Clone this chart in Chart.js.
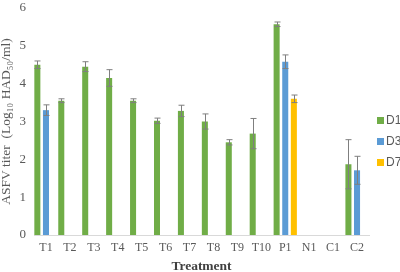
<!DOCTYPE html>
<html>
<head>
<meta charset="utf-8">
<script src="https://cdn.jsdelivr.net/npm/chart.js@4"></script>
<style>
  body { margin: 0; background: #fff; }
  #wrap { position: relative; width: 400px; height: 272px; }
  #legend { position: absolute; left: 377px; top: 113px; font: 12px "Liberation Sans", Arial, sans-serif; color: #595959; }
  #legend div { height: 21px; line-height: 14px; white-space: nowrap; }
  #legend span { display: inline-block; width: 7px; height: 7px; margin-right: 2px; vertical-align: 0px; }
</style>
</head>
<body>
<div id="wrap">
  <canvas id="myChart" width="400" height="272"></canvas>
  <div id="legend"></div>
</div>
<script>
var labels = ['T1', 'T2', 'T3', 'T4', 'T5', 'T6', 'T7', 'T8', 'T9', 'T10', 'P1', 'N1', 'C1', 'C2'];

var d1Values = [4.5, 3.55, 4.45, 4.15, 3.55, 3.02, 3.28, 3.0, 2.45, 2.68, 5.57, null, null, 1.87];
var d1Errors = [0.1, 0.05, 0.13, 0.22, 0.05, 0.07, 0.15, 0.2, 0.07, 0.4, 0.06, null, null, 0.65];

var d3Values = [3.3, null, null, null, null, null, null, null, null, null, 4.58, null, null, 1.71];
var d3Errors = [0.14, null, null, null, null, null, null, null, null, null, 0.18, null, null, 0.37];

var d7Values = [null, null, null, null, null, null, null, null, null, null, 3.6, null, null, null];
var d7Errors = [null, null, null, null, null, null, null, null, null, null, 0.1, null, null, null];

var errorBars = {
    id: 'errorBars',
    afterDatasetsDraw: function(chart) {
        var ctx = chart.ctx;
        var y = chart.scales.y;
        ctx.save();
        ctx.strokeStyle = '#7f7f7f';
        ctx.lineWidth = 1;
        chart.data.datasets.forEach(function(ds, i) {
            var meta = chart.getDatasetMeta(i);
            meta.data.forEach(function(bar, j) {
                var v = ds.data[j], e = ds.errors[j];
                if (v == null || e == null) return;
                var x = Math.round(bar.x) + 0.5;
                var top = y.getPixelForValue(v + e);
                var bot = y.getPixelForValue(v - e);
                ctx.beginPath();
                ctx.moveTo(x, top); ctx.lineTo(x, bot);
                ctx.moveTo(x - 3, top); ctx.lineTo(x + 3, top);
                ctx.moveTo(x - 3, bot); ctx.lineTo(x + 3, bot);
                ctx.stroke();
            });
        });
        ctx.restore();
    }
};

var serif = '"Liberation Serif", "Times New Roman", serif';

var ctx = document.getElementById('myChart').getContext('2d');
var myChart = new Chart(ctx, {
    type: 'bar',
    data: {
        labels: labels,
        datasets: [
            { label: 'D1', data: d1Values, errors: d1Errors, backgroundColor: '#70AD47' },
            { label: 'D3', data: d3Values, errors: d3Errors, backgroundColor: '#5B9BD5' },
            { label: 'D7', data: d7Values, errors: d7Errors, backgroundColor: '#FFC000' }
        ]
    },
    options: {
        responsive: false,
        animation: false,
        layout: { padding: { top: 0, right: 31, left: -2, bottom: 0 } },
        datasets: { bar: { categoryPercentage: 1.08, barPercentage: 0.7 } },
        plugins: {
            legend: { display: false },
            tooltip: { enabled: false }
        },
        scales: {
            x: {
                grid: { display: false, drawTicks: false },
                border: { color: '#d9d9d9' },
                ticks: { color: '#595959', font: { family: serif, size: 12 }, padding: 6, maxRotation: 0, autoSkip: false },
                title: { display: true, text: 'Treatment', color: '#404040', font: { family: serif, size: 13.5, weight: 'bold' }, padding: { top: 0, bottom: -3 } },
                afterFit: function(scale) { scale.height = 37; }
            },
            y: {
                min: 0,
                max: 6,
                grid: { display: false, drawTicks: false },
                border: { display: false },
                ticks: { stepSize: 1, color: '#595959', font: { family: serif, size: 13 }, padding: 8 },
                title: { display: true, text: 'ASFV titer  (Log\u2081\u2080 HAD\u2085\u2080/ml)', color: '#595959', font: { family: serif, size: 13.5 }, padding: { top: 0, bottom: 1 } },
                afterFit: function(scale) {
                    scale.width = 36;
                    scale.paddingTop = 8;
                    scale.paddingBottom = 0;
                }
            }
        }
    },
    plugins: [errorBars]
});

var legendEl = document.getElementById('legend');
myChart.data.datasets.forEach(function(ds) {
    var row = document.createElement('div');
    var box = document.createElement('span');
    box.style.background = ds.backgroundColor;
    row.appendChild(box);
    row.appendChild(document.createTextNode(ds.label));
    legendEl.appendChild(row);
});
</script>
</body>
</html>
